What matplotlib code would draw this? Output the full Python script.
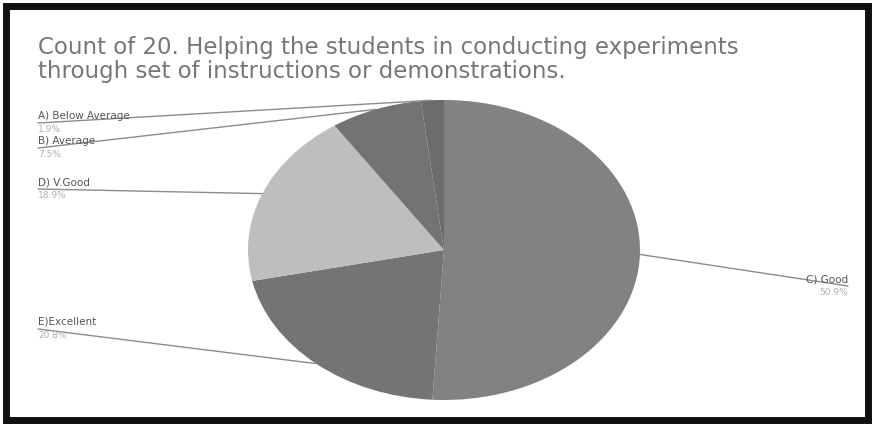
import matplotlib.pyplot as plt
from matplotlib.patches import Rectangle
import numpy as np

# slices in clockwise order from 12 o'clock
labels = ['C) Good', 'E)Excellent', 'D) V.Good', 'B) Average', 'A) Below Average']
counts = [27, 11, 10, 4, 1]
colors = ['#828282', '#747474', '#bebebe', '#737373', '#6c6c6c']

# label anchor (figure pixels, from top-left) for each slice
label_x = [848, 38, 38, 38, 38]
label_y = [285, 328, 188, 147, 122]
label_ha = ['right', 'left', 'left', 'left', 'left']

W, H = 874, 425
fig = plt.figure(figsize=(W / 100, H / 100), dpi=100)
fig.patch.set_facecolor('white')

plt.rcParams['font.family'] = ['DejaVu Sans']

# pie axes sized to the ellipse bounding box
ax = fig.add_axes([248 / W, (H - 400) / H, 392 / W, 300 / H])
wedges, _ = ax.pie(counts, colors=colors, startangle=90, counterclock=False,
                   radius=1, wedgeprops=dict(linewidth=0))
ax.set_xlim(-1, 1)
ax.set_ylim(-1, 1)
ax.set_aspect('auto')
ax.axis('off')

total = sum(counts)
for w, lab, cnt, lx, ly, ha in zip(wedges, labels, counts, label_x, label_y, label_ha):
    mid = np.deg2rad((w.theta1 + w.theta2) / 2)
    ex, ey = np.cos(mid), np.sin(mid)
    pct = '%.1f%%' % (100 * cnt / total)
    fx = lx / W
    fy = (H - ly) / H
    fig.text(fx, fy + 1 / H, lab, ha=ha, va='bottom', fontsize=7.5, color='#555555')
    fig.text(fx, fy - 3 / H, pct, ha=ha, va='top', fontsize=6.5, color='#b0b0b0')
    ax.annotate('', xy=(ex, ey), xycoords='data', xytext=(fx, fy - 1 / H),
                textcoords='figure fraction',
                arrowprops=dict(arrowstyle='-', color='#8c8c8c', lw=1,
                                shrinkA=0, shrinkB=0))

fig.text(38 / W, (H - 36) / H,
         'Count of 20. Helping the students in conducting experiments\n'
         'through set of instructions or demonstrations.',
         ha='left', va='top', fontsize=16.5, color='#777777', linespacing=1.05)

fig.patches.append(Rectangle((6 / W, 5 / H), 862 / W, 414 / H,
                             transform=fig.transFigure, fill=False,
                             edgecolor='#111111', linewidth=5))

fig.savefig('out.png', dpi=100)
